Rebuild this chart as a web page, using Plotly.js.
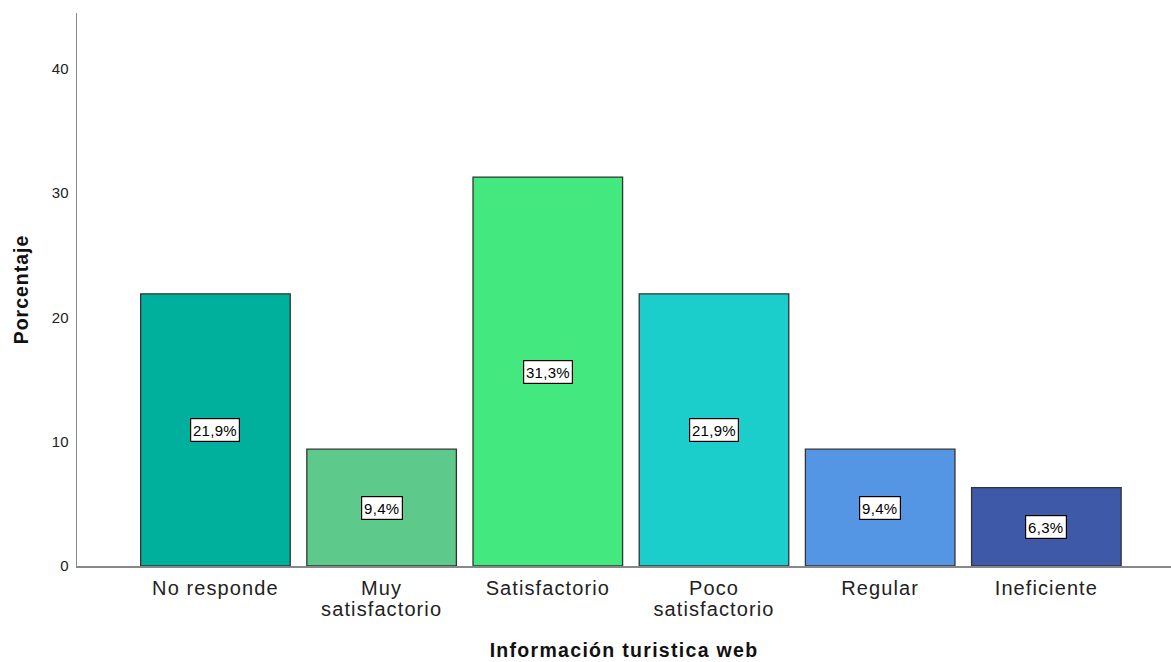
<!DOCTYPE html>
<html>
<head>
<meta charset="utf-8">
<script src="https://cdn.plot.ly/plotly-3.0.1.min.js"></script>
<style>
html,body{margin:0;padding:0;background:#fff;}
#chart{width:1171px;height:662px;}
#chart .xtick text{letter-spacing:1.1px;}
#chart .annotation-text{letter-spacing:0.3px;}
#chart .g-xtitle text{letter-spacing:1.3px;}
#chart .g-ytitle text{letter-spacing:1px;}
</style>
</head>
<body>
<div id="chart"></div>
<script>
var categories = ["No responde", "Muy<br>satisfactorio", "Satisfactorio", "Poco<br>satisfactorio", "Regular", "Ineficiente"];
var percentages = [21.9, 9.4, 31.3, 21.9, 9.4, 6.3];
var valueLabels = ["21,9%", "9,4%", "31,3%", "21,9%", "9,4%", "6,3%"];
var barColors = ["#00B09C", "#5DC98B", "#43E97F", "#1CCECB", "#5496E3", "#3D59A8"];
var yTicks = [0, 10, 20, 30, 40];

var trace = {
  type: "bar",
  x: categories,
  y: percentages,
  marker: {color: barColors, line: {color: "#333333", width: 1.3}},
  hoverinfo: "none"
};

var annotations = categories.map(function(c, i) {
  return {
    x: c, y: percentages[i] / 2, xref: "x", yref: "y",
    text: valueLabels[i], showarrow: false,
    font: {family: "Liberation Sans, Arial, sans-serif", size: 15, color: "#000"},
    bgcolor: "#ffffff", bordercolor: "#000000", borderwidth: 1.2, borderpad: 2.5
  };
});

var layout = {
  width: 1171, height: 662,
  margin: {l: 77, r: 0, t: 13, b: 96},
  paper_bgcolor: "#ffffff", plot_bgcolor: "#ffffff",
  showlegend: false,
  bargap: 0.1,
  font: {family: "Liberation Sans, Arial, sans-serif", color: "#222"},
  xaxis: {
    type: "category",
    range: [-0.833, 5.75],
    showline: true, linecolor: "#888888", linewidth: 1.5,
    ticks: "", showgrid: false, zeroline: false,
    ticklabelstandoff: 3,
    tickfont: {size: 20, color: "#222"},
    title: {text: "<b>Información turistica web</b>", font: {size: 19.5, color: "#111"}, standoff: 20}
  },
  yaxis: {
    range: [0, 44.5],
    tickvals: yTicks,
    showline: true, linecolor: "#888888", linewidth: 1.5,
    ticks: "", showgrid: false, zeroline: false,
    ticklabelstandoff: 4,
    tickfont: {size: 15, color: "#222"},
    title: {text: "<b>Porcentaje</b>", font: {size: 19.5, color: "#111"}, standoff: 18}
  },
  annotations: annotations
};

Plotly.newPlot("chart", [trace], layout, {displayModeBar: false, staticPlot: true}).then(function() {
  document.querySelectorAll("#chart .xtick text tspan.line").forEach(function(t) {
    var dy = parseFloat(t.getAttribute("dy"));
    if (dy > 0) t.setAttribute("dy", (dy * 0.82) + "em");
  });
});
</script>
</body>
</html>
